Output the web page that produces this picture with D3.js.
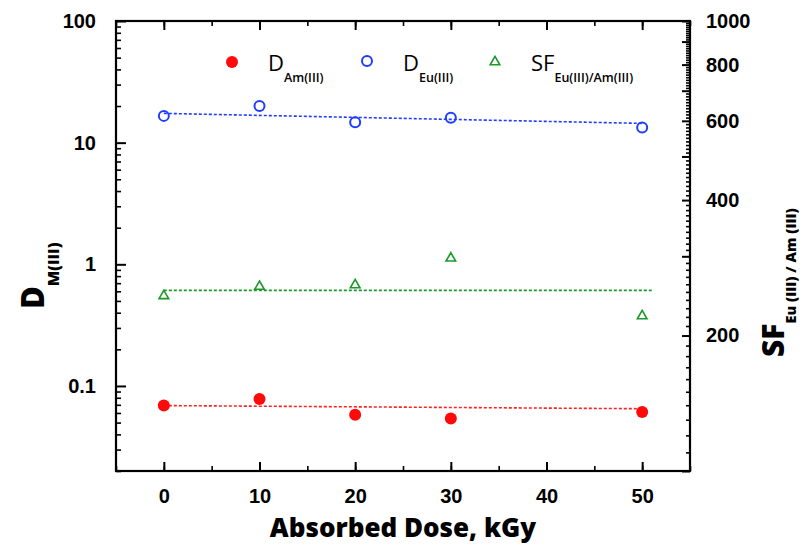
<!DOCTYPE html>
<html>
<head>
<meta charset="utf-8">
<script src="https://cdn.jsdelivr.net/npm/d3@7"></script>
<style>
  body { margin: 0; background: #fff; }
  svg { display: block; font-family: "Open Sans", sans-serif; }
</style>
</head>
<body>
<svg id="chart"></svg>
<script>
// data
const doses = [0, 10, 20, 30, 50];
const dAm = [0.069, 0.078, 0.058, 0.054, 0.061];
const dEu = [16.6, 20.0, 14.7, 16.0, 13.3];
const sfEuAm = [245, 257, 259, 297, 221];

// fitted trend lines (end points)
const fitX = [0, 50];
const fitAm = [0.069, 0.065];
const fitEu = [17.4, 14.4];
const fitSFX = [0, 51];
const fitSF = [252, 252];

const xTicks = [0, 10, 20, 30, 40, 50];
const yLeftTicks = [0.1, 1, 10, 100];
const yRightLabels = [200, 400, 600, 800, 1000];

let width = 804, height = 548;
let margin = {left: 116, right: 114, top: 21, bottom: 77};

let svg = d3.select("#chart")
    .attr("width", width)
    .attr("height", height);

let x = d3.scaleLinear().domain([-5, 55]).range([margin.left, width - margin.right]);
let yL = d3.scaleLog().domain([0.02, 100]).range([height - margin.bottom, margin.top]);
let yR = d3.scaleLog().domain([100, 1000]).range([height - margin.bottom, margin.top]);

// minor tick values
let leftMinor = [];
[0.01, 0.1, 1, 10].forEach(dec => {
    for (let k = 2; k <= 9; k++) {
        let v = +(dec * k).toPrecision(3);
        if (v >= 0.02 && v < 100) leftMinor.push(v);
    }
});
let rightMajor = d3.range(100, 1001, 100);
let rightMinor = d3.range(110, 1000, 10).filter(v => v % 100 != 0);

// axes (ticks inward)
svg.append("g")
    .attr("transform", "translate(0," + (height - margin.bottom) + ")")
    .call(d3.axisBottom(x).tickValues(d3.range(-5, 56, 5)).tickSize(-5).tickFormat(""))
    .call(g => g.selectAll(".tick line").attr("stroke-width", 1.6));
svg.append("g")
    .attr("transform", "translate(0," + (height - margin.bottom) + ")")
    .call(d3.axisBottom(x).tickValues(xTicks).tickSize(-9).tickPadding(18).tickFormat(d3.format("d")))
    .call(g => g.select(".domain").remove())
    .call(g => g.selectAll(".tick line").attr("stroke-width", 2))
    .call(g => g.selectAll("text").attr("font-size", 20).attr("font-weight", 800).attr("fill", "#000"));

svg.append("g")
    .attr("transform", "translate(0," + margin.top + ")")
    .call(d3.axisTop(x).tickValues(d3.range(-5, 56, 5)).tickSize(-5).tickFormat(""))
    .call(g => g.select(".domain").remove())
    .call(g => g.selectAll(".tick line").attr("stroke-width", 1.6));
svg.append("g")
    .attr("transform", "translate(0," + margin.top + ")")
    .call(d3.axisTop(x).tickValues(xTicks).tickSize(-9).tickFormat(""))
    .call(g => g.select(".domain").remove())
    .call(g => g.selectAll(".tick line").attr("stroke-width", 2));

// left axis
svg.append("g")
    .attr("transform", "translate(" + margin.left + ",0)")
    .call(d3.axisLeft(yL).tickValues(leftMinor).tickSize(-5).tickFormat(""))
    .call(g => g.select(".domain").remove())
    .call(g => g.selectAll(".tick line").attr("stroke-width", 1.6));
svg.append("g")
    .attr("transform", "translate(" + margin.left + ",0)")
    .call(d3.axisLeft(yL).tickValues(yLeftTicks).tickSize(-10).tickPadding(20).tickFormat(d => d3.format("~g")(d)))
    .call(g => g.select(".domain").remove())
    .call(g => g.selectAll(".tick line").attr("stroke-width", 2))
    .call(g => g.selectAll("text").attr("font-size", 20).attr("font-weight", 800).attr("fill", "#000"));

// right axis
svg.append("g")
    .attr("transform", "translate(" + (width - margin.right) + ",0)")
    .call(d3.axisRight(yR).tickValues(rightMinor).tickSize(-4).tickFormat(""))
    .call(g => g.select(".domain").remove())
    .call(g => g.selectAll(".tick line").attr("stroke-width", 1.6));
svg.append("g")
    .attr("transform", "translate(" + (width - margin.right) + ",0)")
    .call(d3.axisRight(yR).tickValues(rightMajor).tickSize(-8).tickPadding(16)
        .tickFormat(d => yRightLabels.includes(d) ? d : ""))
    .call(g => g.select(".domain").remove())
    .call(g => g.selectAll(".tick line").attr("stroke-width", 2))
    .call(g => g.selectAll("text").attr("font-size", 20).attr("font-weight", 800).attr("fill", "#000"));

// frame
svg.append("rect")
    .attr("x", margin.left)
    .attr("y", margin.top)
    .attr("width", width - margin.left - margin.right)
    .attr("height", height - margin.top - margin.bottom)
    .attr("fill", "none")
    .attr("stroke", "#000")
    .attr("stroke-width", 2.2);

// trend lines
let fitLines = [
    {xs: fitX, ys: fitAm, scale: yL, color: "#ff2020"},
    {xs: fitX, ys: fitEu, scale: yL, color: "#1f3cff"},
    {xs: fitSFX, ys: fitSF, scale: yR, color: "#1a9a2a"}
];
svg.append("g").selectAll("line")
    .data(fitLines)
    .enter()
    .append("line")
    .attr("x1", d => x(d.xs[0]))
    .attr("x2", d => x(d.xs[1]))
    .attr("y1", d => d.scale(d.ys[0]))
    .attr("y2", d => d.scale(d.ys[1]))
    .attr("stroke", d => d.color)
    .attr("stroke-width", 1.6)
    .attr("stroke-dasharray", "3,2");

// D Am(III) points
svg.append("g").selectAll("circle")
    .data(doses)
    .enter()
    .append("circle")
    .attr("cx", d => x(d))
    .attr("cy", (d, i) => yL(dAm[i]))
    .attr("r", 6)
    .attr("fill", "#ff0a0a");

// D Eu(III) points
svg.append("g").selectAll("circle")
    .data(doses)
    .enter()
    .append("circle")
    .attr("cx", d => x(d))
    .attr("cy", (d, i) => yL(dEu[i]))
    .attr("r", 5)
    .attr("fill", "none")
    .attr("stroke", "#1f3cff")
    .attr("stroke-width", 2);

// SF points (right axis)
let tri = d3.symbol().type(d3.symbolTriangle).size(40);
svg.append("g").selectAll("path")
    .data(doses)
    .enter()
    .append("path")
    .attr("d", tri)
    .attr("transform", (d, i) => "translate(" + x(d) + "," + yR(sfEuAm[i]) + ")")
    .attr("fill", "none")
    .attr("stroke", "#1a9a2a")
    .attr("stroke-width", 1.6);

// legend
let legend = svg.append("g");
legend.append("circle").attr("cx", 232).attr("cy", 62).attr("r", 6).attr("fill", "#ff0a0a");
legend.append("circle").attr("cx", 367).attr("cy", 61).attr("r", 5).attr("fill", "none")
    .attr("stroke", "#1f3cff").attr("stroke-width", 2);
legend.append("path").attr("d", tri).attr("transform", "translate(495,62)")
    .attr("fill", "none").attr("stroke", "#1a9a2a").attr("stroke-width", 1.6);

function subLabel(g, xPos, yPos, main, sub) {
    let t = g.append("text").attr("x", xPos).attr("y", yPos).attr("fill", "#000");
    t.append("tspan").attr("font-size", 22).text(main);
    t.append("tspan").attr("font-size", 12.5).attr("font-weight", 600).attr("dy", 11).text(sub);
}
subLabel(legend, 268, 71, "D", "Am(III)");
subLabel(legend, 403, 71, "D", "Eu(III)");
subLabel(legend, 531, 71, "SF", "Eu(III)/Am(III)");

// axis titles
svg.append("text")
    .attr("x", (x(-5) + x(55)) / 2)
    .attr("y", 537)
    .attr("text-anchor", "middle")
    .attr("font-size", 26)
    .attr("font-weight", 800)
    .text("Absorbed Dose, kGy");

let yTitle = svg.append("text")
    .attr("transform", "translate(44,309) rotate(-90)")
    .attr("font-weight", 800);
yTitle.append("tspan").attr("font-size", 31).text("D");
yTitle.append("tspan").attr("font-size", 16).attr("dy", 15).text("M(III)");

let y2Title = svg.append("text")
    .attr("transform", "translate(784,357) rotate(-90)")
    .attr("font-weight", 800);
y2Title.append("tspan").attr("font-size", 30).text("SF");
y2Title.append("tspan").attr("font-size", 14.5).attr("dy", 12).text("Eu (III) / Am (III)");
</script>
</body>
</html>
